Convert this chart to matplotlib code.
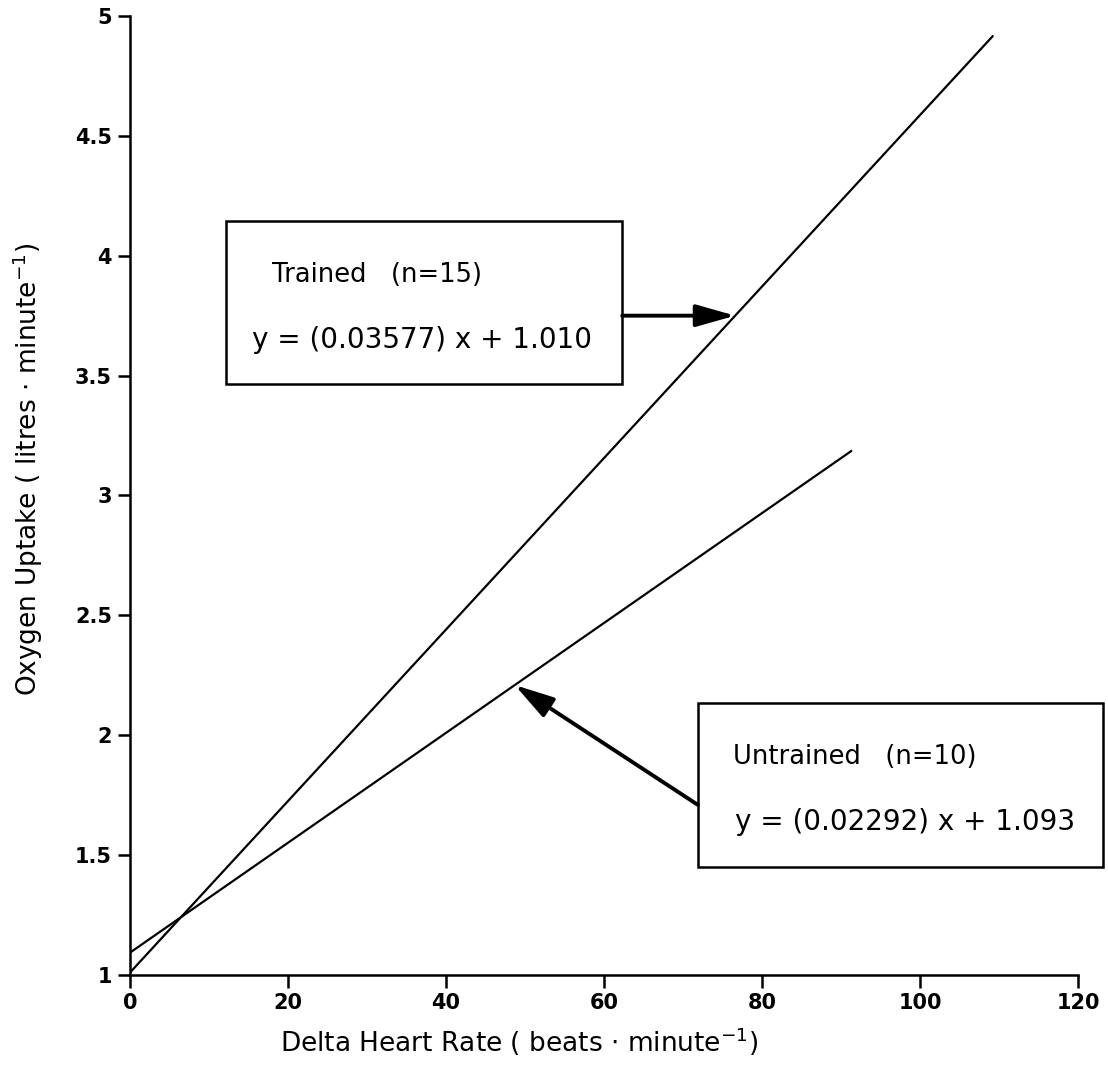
import numpy as np
import matplotlib.pyplot as plt
from matplotlib.patches import Rectangle, ArrowStyle

# regression fits for the two groups
groups = ["Trained", "Untrained"]
n_subjects = [15, 10]
slopes = [0.03577, 0.02292]
intercepts = [1.010, 1.093]
x_end = [109.2, 91.3]

x_ticks = [0, 20, 40, 60, 80, 100, 120]
y_ticks = [1, 1.5, 2, 2.5, 3, 3.5, 4, 4.5, 5]
y_tick_labels = ["1", "1.5", "2", "2.5", "3", "3.5", "4", "4.5", "5"]

fig = plt.figure(figsize=(11.08, 10.66), dpi=100)
ax = fig.add_axes([0.1173, 0.0854, 0.8557, 0.8996])

for m, b, xe in zip(slopes, intercepts, x_end):
    xs = np.array([0, xe])
    ax.plot(xs, m * xs + b, color="black", lw=1.6, solid_capstyle="round")

ax.set_xlim(0, 120)
ax.set_ylim(1, 5)
ax.set_xticks(x_ticks)
ax.set_xticklabels([str(v) for v in x_ticks], fontweight="bold", fontsize=15)
ax.set_yticks(y_ticks)
ax.set_yticklabels(y_tick_labels, fontweight="bold", fontsize=15)
ax.tick_params(direction="out", length=9, width=1.8, pad=4)

for s in ["top", "right"]:
    ax.spines[s].set_visible(False)
for s in ["left", "bottom"]:
    ax.spines[s].set_linewidth(1.8)

ax.set_xlabel(r"Delta Heart Rate ( beats $\cdot$ minute$^{-1}$)", fontsize=19)
ax.xaxis.set_label_coords(0.41, -0.053)
ax.set_ylabel(r"Oxygen Uptake ( litres $\cdot$ minute$^{-1}$)", fontsize=19)
ax.yaxis.set_label_coords(-0.090, 0.527)

head = ArrowStyle("-|>", head_length=0.6, head_width=0.17)

# label boxes: (x0, x1, y0, y1), text anchors, arrow start and target x on the line
boxes = [(12.15, 62.3, 3.465, 4.145), (71.9, 123.2, 1.450, 2.134)]
title_pos = [(18.0, 3.92), (76.3, 1.91)]
eq_pos = [(15.4, 3.65), (76.6, 1.64)]
arrow_start = [(62.3, 3.75), (71.9, 1.709)]
arrow_x = [76.6, 48.7]

for i, g in enumerate(groups):
    x0, x1, y0, y1 = boxes[i]
    ax.add_patch(Rectangle((x0, y0), x1 - x0, y1 - y0, fill=False,
                           edgecolor="black", lw=1.8, clip_on=False))
    ax.text(*title_pos[i], f"{g}   (n={n_subjects[i]})", fontsize=18.5,
            ha="left", va="center")
    ax.text(*eq_pos[i], f"y = ({slopes[i]:.5f}) x + {intercepts[i]:.3f}",
            fontsize=20, ha="left", va="center")
    tx = arrow_x[i]
    ty = slopes[i] * tx + intercepts[i]
    ax.annotate("", xy=(tx, ty), xytext=arrow_start[i],
                arrowprops=dict(arrowstyle=head, lw=2.8, color="black",
                                mutation_scale=40, shrinkA=0, shrinkB=0))

plt.savefig("out.png", dpi=100)
